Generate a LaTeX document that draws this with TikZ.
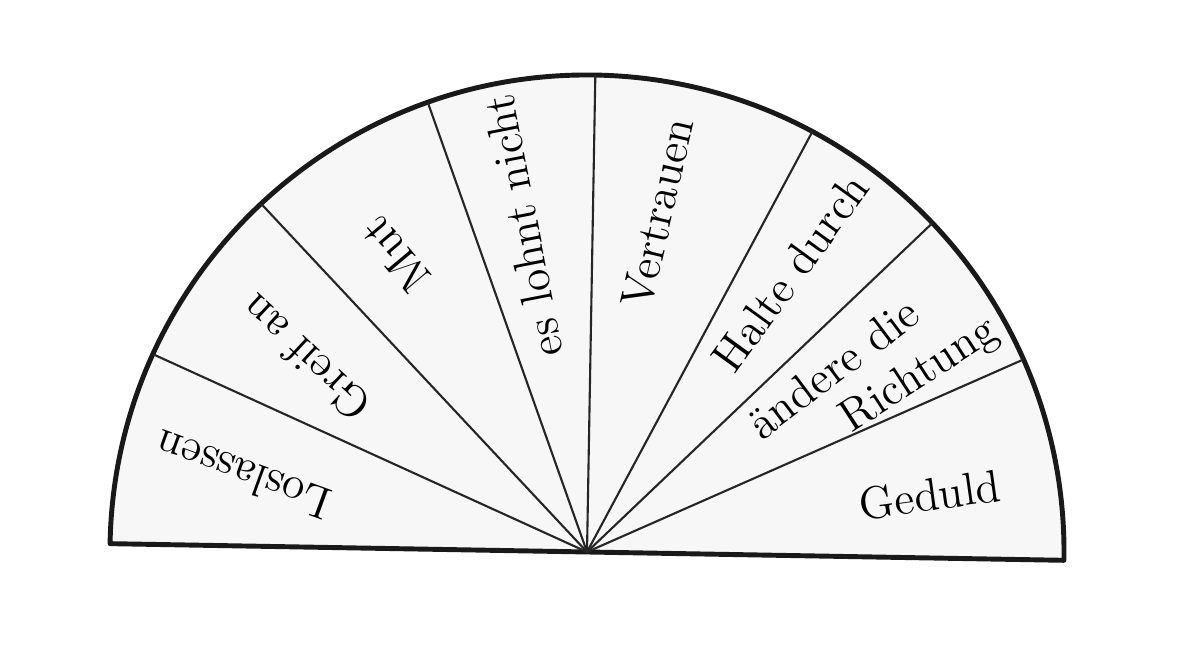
\documentclass[tikz,border=0pt]{standalone}
\usepackage{tikz}

\begin{document}
\begin{tikzpicture}[line join=round,
  rim/.style={draw=black!90,line width=1.4pt,fill=black!3},
  spoke/.style={draw=black!85,line width=0.6pt},
  lbl/.style={font=\fontsize{13}{15}\selectfont,inner sep=1pt}]
\useasboundingbox (0,0) rectangle (11.84,6.68);
\coordinate (O) at (5.87,1.16);
\path (O) ++(179:4.77) coordinate (r0);
\path (O) ++(155.5:4.77) coordinate (r1);
\path (O) ++(133.1:4.77) coordinate (r2);
\path (O) ++(109.5:4.77) coordinate (r3);
\path (O) ++(89.0:4.77) coordinate (r4);
\path (O) ++(61.8:4.77) coordinate (r5);
\path (O) ++(43.6:4.77) coordinate (r6);
\path (O) ++(23.8:4.77) coordinate (r7);
\path (O) ++(-1:4.77) coordinate (r8);
\draw[rim] (r8) arc[start angle=-1,end angle=179,radius=4.77] -- (O) -- cycle;
\draw[spoke] (O) -- (r1);
\draw[spoke] (O) -- (r2);
\draw[spoke] (O) -- (r3);
\draw[spoke] (O) -- (r4);
\draw[spoke] (O) -- (r5);
\draw[spoke] (O) -- (r6);
\draw[spoke] (O) -- (r7);
\node[lbl,rotate=160] (los) at (2.43,1.93) {Loslassen};
\node[lbl,rotate=137] (gre) at (3.05,3.10) {Greif an};
\node[lbl,rotate=130] (mut) at (3.95,4.13) {Mut};
\node[lbl,rotate=101] (loh) at (5.23,4.42) {es lohnt nicht};
\node[lbl,rotate=77] (ver) at (6.58,4.55) {Vertrauen};
\node[lbl,rotate=54] (hal) at (7.90,3.95) {Halte durch};
\node[lbl,rotate=37] (and) at (8.33,3.00) {ändere die};
\node[lbl,rotate=33] (ric) at (9.20,2.92) {Richtung};
\node[lbl,rotate=8] (ged) at (9.30,1.73) {Geduld};
\end{tikzpicture}
\end{document}
